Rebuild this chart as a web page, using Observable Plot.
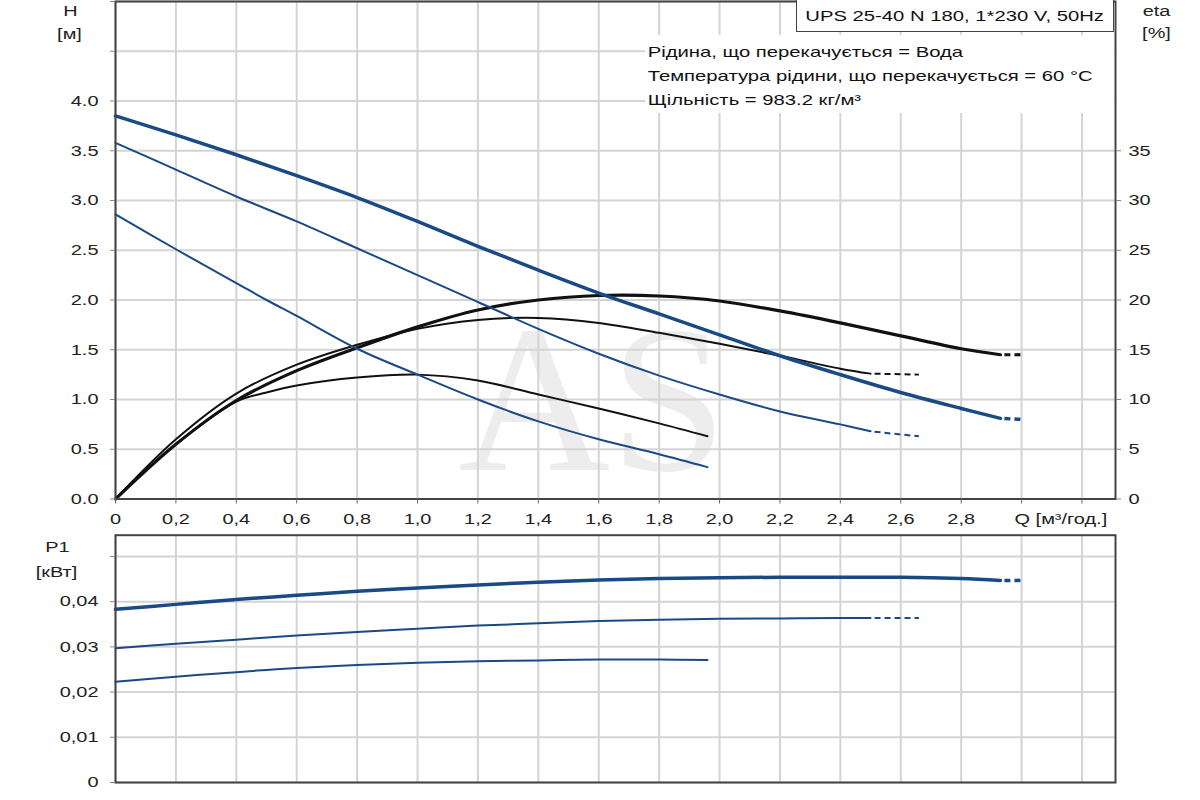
<!DOCTYPE html>
<html><head><meta charset="utf-8">
<script src="https://cdn.jsdelivr.net/npm/d3@7"></script>
<script src="https://cdn.jsdelivr.net/npm/@observablehq/plot@0.6"></script>
<style>
html,body{margin:0;padding:0;background:#fff;}
#wrap{position:relative;width:1200px;height:800px;overflow:hidden;font-family:"Liberation Sans",Arial,sans-serif;}
#wrap svg{display:block;}
.note{position:absolute;left:645px;top:35px;width:469px;height:78px;background:#fff;padding-top:5px;box-sizing:border-box;font-size:15px;line-height:24px;color:#111;}
.note div{transform:scaleX(1.35);transform-origin:left center;white-space:nowrap;padding-left:2px;}
.box{position:absolute;left:796px;top:-1px;width:318px;height:33px;box-sizing:border-box;border:1.5px solid #444;background:#fff;display:flex;align-items:center;justify-content:center;font-size:15px;color:#111;}
.box span{display:inline-block;transform:scaleX(1.35);white-space:nowrap;}
</style></head><body><div id="wrap"></div>
<script>
// ---- axes / ticks ----
const Q_TICKS = [0,0.2,0.4,0.6,0.8,1.0,1.2,1.4,1.6,1.8,2.0,2.2,2.4,2.6,2.8,3.0,3.2];
const Q_TICK_LABELS = ["0","0,2","0,4","0,6","0,8","1,0","1,2","1,4","1,6","1,8","2,0","2,2","2,4","2,6","2,8","",""];
const Q_AXIS_TITLE = "Q [м³/год.]";
const H_TICKS = [0,0.5,1,1.5,2,2.5,3,3.5,4,4.5,5];
const H_TICK_LABELS = ["0.0","0.5","1.0","1.5","2.0","2.5","3.0","3.5","4.0","",""];
const ETA_TICKS = [0,5,10,15,20,25,30,35];
const ETA_PER_H = 10; // right axis: 10 % per 1 m
const P1_TICKS = [0,0.01,0.02,0.03,0.04,0.05];
const P1_TICK_LABELS = ["0","0,01","0,02","0,03","0,04",""];
const TITLE_BOX = "UPS 25-40 N 180, 1*230 V, 50Hz";
const NOTES = ["Рідина, що перекачується = Вода","Температура рідини, що перекачується = 60 °C","Щільність = 983.2 кг/м³"];

// ---- speed 3 (max) ----
const Q_S3 = [0,0.2,0.4,0.6,0.8,1.0,1.2,1.4,1.6,1.8,2.0,2.2,2.4,2.6,2.8,2.93];
const H_S3 = [3.85,3.66,3.46,3.25,3.03,2.79,2.54,2.30,2.07,1.86,1.65,1.44,1.25,1.07,0.91,0.81];
const ETA_S3 = [0,5.5,9.9,12.9,15.2,17.3,19.0,20.0,20.45,20.4,19.9,18.9,17.7,16.4,15.1,14.5];
const P1_S3 = [0.0383,0.0394,0.0405,0.0414,0.0423,0.0430,0.0437,0.0443,0.0448,0.0451,0.0453,0.0454,0.0454,0.0454,0.0451,0.0447];
const Q_S3_EXT = [2.93,3.0];
const H_S3_EXT = [0.81,0.80];
const ETA_S3_EXT = [14.5,14.5];
const P1_S3_EXT = [0.0447,0.0447];

// ---- speed 2 ----
const Q_S2 = [0,0.2,0.4,0.6,0.8,1.0,1.2,1.4,1.6,1.8,2.0,2.2,2.4,2.5];
const H_S2 = [3.58,3.31,3.04,2.79,2.52,2.25,1.98,1.71,1.46,1.24,1.05,0.88,0.75,0.68];
const ETA_S2 = [0,6.0,10.6,13.5,15.5,17.1,18.0,18.2,17.7,16.7,15.6,14.4,13.1,12.6];
const P1_S2 = [0.0297,0.0307,0.0316,0.0325,0.0333,0.0340,0.0347,0.0352,0.0357,0.0360,0.0362,0.0363,0.0364,0.0364];
const Q_S2_EXT = [2.5,2.66];
const H_S2_EXT = [0.68,0.63];
const ETA_S2_EXT = [12.6,12.5];
const P1_S2_EXT = [0.0364,0.0364];

// ---- speed 1 ----
const Q_S1 = [0,0.2,0.4,0.5,0.6,0.8,1.0,1.2,1.4,1.6,1.8,1.96];
const H_S1 = [2.86,2.51,2.17,2.00,1.84,1.51,1.25,1.00,0.78,0.60,0.45,0.32];
const ETA_S1 = [0,5.5,9.8,10.7,11.4,12.2,12.5,11.9,10.5,9.1,7.6,6.3];
const P1_S1 = [0.0223,0.0234,0.0244,0.0249,0.0253,0.0260,0.0265,0.0268,0.0270,0.0272,0.0272,0.0271];

const BLUE = "#1a4a85", BLACK = "#111", GRID = "#d4d4d4";
const rows = (Q, V) => Q.map((q, i) => ({q, v: V[i]}));
const lbl = (ticks, labels) => d => { const i = ticks.findIndex(t => Math.abs(t - d) < 1e-9); return i < 0 ? "" : labels[i]; };
const FONT = {fontFamily: '"Liberation Sans", Arial, sans-serif', fontSize: "15px", color: "#222", background: "transparent", overflow: "visible"};

const solid = (data, y, stroke, w) => Plot.line(data, {x: "q", y, stroke, strokeWidth: w, curve: "catmull-rom"});
const dashed = (data, y, stroke, w) => Plot.line(data, {x: "q", y, stroke, strokeWidth: w, strokeDasharray: "6,4", strokeDashoffset: 6, strokeLinecap: "butt"});
const etaY = d => d.v / ETA_PER_H;

const topPlot = Plot.plot({
  width: 1200, height: 532, marginLeft: 115, marginRight: 85, marginTop: 1, marginBottom: 33.5,
  style: FONT,
  x: {domain: [0, 3.311], label: null},
  y: {domain: [0, 5], label: null},
  marks: [
    Plot.text(["AS"], {frameAnchor: "middle", dx: -23, dy: 220, lineAnchor: "bottom", fontSize: 210, fontFamily: '"Liberation Serif", serif', fill: "#ededed"}),
    Plot.gridX(Q_TICKS, {stroke: GRID, strokeOpacity: 1, strokeWidth: 2}),
    Plot.gridY(H_TICKS, {stroke: GRID, strokeOpacity: 1, strokeWidth: 2}),
    // efficiency curves (black)
    solid(rows(Q_S1, ETA_S1), etaY, BLACK, 2),
    solid(rows(Q_S2, ETA_S2), etaY, BLACK, 2),
    dashed(rows(Q_S2_EXT, ETA_S2_EXT), etaY, BLACK, 2),
    solid(rows(Q_S3, ETA_S3), etaY, BLACK, 3.2),
    dashed(rows(Q_S3_EXT, ETA_S3_EXT), etaY, BLACK, 3.2),
    // head curves (blue)
    solid(rows(Q_S1, H_S1), "v", BLUE, 2),
    solid(rows(Q_S2, H_S2), "v", BLUE, 2),
    dashed(rows(Q_S2_EXT, H_S2_EXT), "v", BLUE, 2),
    solid(rows(Q_S3, H_S3), "v", BLUE, 3.5),
    dashed(rows(Q_S3_EXT, H_S3_EXT), "v", BLUE, 3.5),
    Plot.frame({stroke: "#444", strokeWidth: 2}),
    Plot.axisX(Q_TICKS, {tickFormat: lbl(Q_TICKS, Q_TICK_LABELS), tickSize: 5, tickPadding: 9, stroke: "#666", label: null}),
    Plot.axisX([3.0], {tickFormat: () => Q_AXIS_TITLE, tickSize: 0, tickPadding: 14, textAnchor: "start", dx: -7, label: null}),
    Plot.axisY(H_TICKS, {anchor: "left", tickFormat: lbl(H_TICKS, H_TICK_LABELS), tickSize: 5, tickPadding: 12, stroke: "#888", label: null}),
    Plot.axisY(ETA_TICKS.map(e => e / ETA_PER_H), {anchor: "right", tickFormat: d => String(Math.round(d * ETA_PER_H)), tickSize: 5, tickPadding: 8, stroke: "#888", label: null}),
    Plot.text(["H"], {frameAnchor: "top-left", dx: -45, dy: 10, textAnchor: "middle", lineAnchor: "middle", fill: "#222"}),
    Plot.text(["[м]"], {frameAnchor: "top-left", dx: -46, dy: 33, textAnchor: "middle", lineAnchor: "middle", fill: "#222"}),
    Plot.text(["eta"], {frameAnchor: "top-right", dx: 41, dy: 10, textAnchor: "middle", lineAnchor: "middle", fill: "#222"}),
    Plot.text(["[%]"], {frameAnchor: "top-right", dx: 41, dy: 32, textAnchor: "middle", lineAnchor: "middle", fill: "#222"})
  ]
});

const bottomPlot = Plot.plot({
  width: 1200, height: 268, marginLeft: 115, marginRight: 85, marginTop: 2.7, marginBottom: 18,
  style: FONT,
  x: {domain: [0, 3.311], label: null, axis: null},
  y: {domain: [0, 0.0547], label: null},
  marks: [
    Plot.gridX(Q_TICKS, {stroke: GRID, strokeOpacity: 1, strokeWidth: 2}),
    Plot.gridY(P1_TICKS, {stroke: GRID, strokeOpacity: 1, strokeWidth: 2}),
    solid(rows(Q_S1, P1_S1), "v", BLUE, 2),
    solid(rows(Q_S2, P1_S2), "v", BLUE, 2),
    dashed(rows(Q_S2_EXT, P1_S2_EXT), "v", BLUE, 2),
    solid(rows(Q_S3, P1_S3), "v", BLUE, 3.5),
    dashed(rows(Q_S3_EXT, P1_S3_EXT), "v", BLUE, 3.5),
    Plot.frame({stroke: "#444", strokeWidth: 2}),
    Plot.axisY(P1_TICKS, {anchor: "left", tickFormat: lbl(P1_TICKS, P1_TICK_LABELS), tickSize: 5, tickPadding: 12, stroke: "#888", label: null}),
    Plot.text(["P1"], {frameAnchor: "top-left", dx: -58, dy: 11.5, textAnchor: "middle", lineAnchor: "middle", fill: "#222"}),
    Plot.text(["[кВт]"], {frameAnchor: "top-left", dx: -59, dy: 36.5, textAnchor: "middle", lineAnchor: "middle", fill: "#222"})
  ]
});

// the reference uses a horizontally widened sans-serif: widen each label about its own anchor
function stretch(svg, k) {
  svg.querySelectorAll("text").forEach(t => {
    if (t.textContent === "AS") return;
    const tr = t.getAttribute("transform") || "";
    t.setAttribute("transform", `${tr} scale(${k},1)`);
  });
}
stretch(topPlot, 1.33);
stretch(bottomPlot, 1.33);

const wrap = document.getElementById("wrap");
wrap.appendChild(topPlot);
wrap.appendChild(bottomPlot);

const note = document.createElement("div");
note.className = "note";
NOTES.forEach(s => { const d = document.createElement("div"); d.textContent = s; note.appendChild(d); });
wrap.appendChild(note);

const box = document.createElement("div");
box.className = "box";
const sp = document.createElement("span");
sp.textContent = TITLE_BOX;
box.appendChild(sp);
wrap.appendChild(box);
</script></body></html>
